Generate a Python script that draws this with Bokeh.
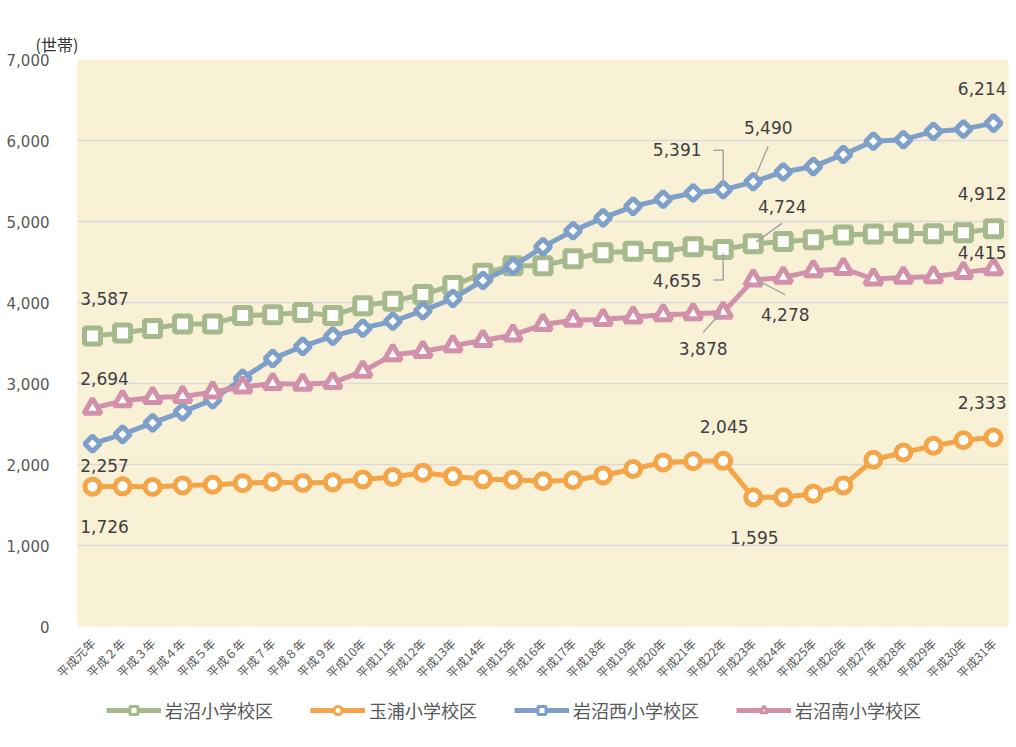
import math
from bokeh.plotting import figure
from bokeh.layouts import column
from bokeh.models import (ColumnDataSource, FactorRange, Range1d, NumeralTickFormatter,
                          SingleIntervalTicker, Legend, LegendItem, LabelSet)
from bokeh.core.properties import value
from bokeh.embed import file_html
from bokeh.resources import INLINE

# ---------------- data ----------------
years = ["平成元年", "平成２年", "平成３年", "平成４年", "平成５年", "平成６年", "平成７年",
         "平成８年", "平成９年", "平成10年", "平成11年", "平成12年", "平成13年", "平成14年",
         "平成15年", "平成16年", "平成17年", "平成18年", "平成19年", "平成20年", "平成21年",
         "平成22年", "平成23年", "平成24年", "平成25年", "平成26年", "平成27年", "平成28年",
         "平成29年", "平成30年", "平成31年"]

iwanuma = [3587, 3622, 3680, 3736, 3736, 3838, 3850, 3878, 3838, 3960, 4015, 4100, 4210,
           4360, 4455, 4455, 4540, 4615, 4632, 4628, 4688, 4655, 4724, 4754, 4775, 4832,
           4845, 4854, 4848, 4860, 4912]
tamaura = [1726, 1730, 1722, 1742, 1750, 1770, 1784, 1772, 1780, 1815, 1845, 1898, 1854,
           1817, 1812, 1793, 1805, 1865, 1945, 2026, 2040, 2045, 1595, 1595, 1640, 1742,
           2058, 2148, 2230, 2300, 2333]
nishi = [2257, 2372, 2514, 2650, 2800, 3063, 3308, 3458, 3585, 3683, 3768, 3898, 4049,
         4272, 4447, 4687, 4885, 5045, 5187, 5275, 5352, 5391, 5490, 5612, 5678, 5828,
         5990, 6010, 6112, 6140, 6214]
minami = [2694, 2785, 2826, 2838, 2895, 2956, 3000, 2990, 3010, 3150, 3355, 3395, 3465,
          3530, 3598, 3728, 3780, 3790, 3820, 3848, 3860, 3878, 4278, 4310, 4390, 4418,
          4290, 4310, 4318, 4370, 4415]

series_names = ["岩沼小学校区", "玉浦小学校区", "岩沼西小学校区", "岩沼南小学校区"]
series_values = [iwanuma, tamaura, nishi, minami]
y_ticks_max = 7000
y_tick_step = 1000
unit_label = "(世帯)"

# ---------------- styles ----------------
colors = ["#A6B98C", "#F4A548", "#7EA0C8", "#D291AA"]
markers = ["square", "circle", "square", "triangle"]
marker_sizes = [16, 15, 11, 17]
marker_angles = [0, 0, math.pi / 4, 0]
LINE_W = 5
BG = "#F9F1D6"
TXT = "#404040"
AX = "#595959"

W, H = 1014, 690
BL, BR, BT, BB = 77, 6, 59, 57
FW, FH = W - BL - BR, H - BT - BB
ppx = FW / len(years)
ppy = FH / y_ticks_max
LEG_H = 55


def cat_x(i):
    # synthetic coordinate of the centre of category i on the FactorRange
    return i + 0.5


p = figure(width=W, height=H, x_range=FactorRange(*years, range_padding=0),
           y_range=Range1d(0, y_ticks_max), output_backend="svg", toolbar_location=None,
           min_border_left=BL, min_border_right=BR, min_border_top=BT, min_border_bottom=BB)
p.background_fill_color = BG
p.border_fill_color = "white"
p.outline_line_color = None

p.title.text = unit_label
p.title.align = "left"
p.title.offset = -42
p.title.standoff = 8
p.title.text_font = "Noto Sans CJK JP"
p.title.text_font_size = "16px"
p.title.text_font_style = "normal"
p.title.text_color = "#333333"

p.xgrid.grid_line_color = None
p.ygrid.grid_line_color = "#DADADA"
p.ygrid.grid_line_width = 1.5

p.yaxis.ticker = SingleIntervalTicker(interval=y_tick_step)
p.yaxis.formatter = NumeralTickFormatter(format="0,0")
p.yaxis.axis_line_color = None
p.yaxis.major_tick_line_color = None
p.yaxis.minor_tick_line_color = None
p.yaxis.major_label_standoff = 22
p.yaxis.major_label_text_font = "DejaVu Sans"
p.yaxis.major_label_text_font_size = "15px"
p.yaxis.major_label_text_color = AX

p.xaxis.axis_line_color = None
p.xaxis.major_tick_line_color = None
p.xaxis.minor_tick_line_color = None
p.xaxis.major_label_orientation = math.pi / 4
p.xaxis.major_label_standoff = 8
p.xaxis.major_label_text_font = "Noto Sans CJK JP"
p.xaxis.major_label_text_font_size = "12px"
p.xaxis.major_label_text_color = AX

# legend strip (separate figure so the legend is not clipped by the plot frame)
lg = figure(width=W, height=LEG_H, x_range=Range1d(0, 1), y_range=Range1d(0, 1),
            output_backend="svg", toolbar_location=None, x_axis_type=None,
            y_axis_type=None, min_border=0)
lg.grid.visible = False
lg.outline_line_color = None
lg.background_fill_color = "white"
lg.border_fill_color = "white"

items = []
for name, vals, col, mk, ms, ang in zip(series_names, series_values, colors, markers,
                                         marker_sizes, marker_angles):
    src = ColumnDataSource(dict(x=years, y=vals))
    p.line("x", "y", source=src, line_color=col, line_width=LINE_W)
    p.scatter("x", "y", source=src, marker=mk, size=ms, angle=ang,
              fill_color="white", line_color=col, line_width=LINE_W)
    # legend-only renderers: one point outside the visible range of the strip
    hidden = ColumnDataSource(dict(x=[-10, -9], y=[-10, -10]))
    l2 = lg.line("x", "y", source=hidden, line_color=col, line_width=LINE_W)
    s2 = lg.scatter("x", "y", source=hidden, marker=mk, size=ms, angle=ang,
                    fill_color="white", line_color=col, line_width=3)
    items.append(LegendItem(label=name, renderers=[l2, s2]))

# leader lines (pixel offsets from the point)
leaders = [
    (2, 21, [(-10, 40), (0, 40), (0, 5)]),
    (2, 22, [(15, 36), (2, 5)]),
    (0, 21, [(-10, -31), (0, -31), (0, -4)]),
    (0, 22, [(29, 21), (3, 2)]),
    (3, 21, [(-20, -20), (-2, 0)]),
    (3, 22, [(32, -15), (4, 0)]),
]
xs, ys = [], []
for si, idx, path in leaders:
    v = series_values[si][idx]
    xs.append([cat_x(idx) + dx / ppx for dx, dy in path])
    ys.append([v + dy / ppy for dx, dy in path])
p.multi_line(xs, ys, line_color="#A6A6A6", line_width=1.5)

# data labels: (series, index, dx px, dy px up, align)
label_specs = [
    (0, 0, 12, 37, "center"), (3, 0, 12, 30, "center"), (2, 0, 12, -22, "center"),
    (1, 0, 12, -40, "center"),
    (2, 21, -46, 40, "center"), (2, 22, 15, 54, "center"),
    (0, 21, -46, -31, "center"), (0, 22, 29, 37, "center"),
    (3, 21, -20, -36, "center"), (3, 22, 32, -35, "center"),
    (1, 21, 1, 34, "center"), (1, 22, 1, -40, "center"),
    (2, 30, 13, 35, "right"), (0, 30, 13, 35, "right"),
    (3, 30, 13, 16, "right"), (1, 30, 13, 35, "right"),
]
for align in ("center", "right"):
    sel = [s for s in label_specs if s[4] == align]
    lsrc = ColumnDataSource(dict(
        x=[cat_x(i) for _, i, _, _, _ in sel],
        y=[series_values[si][i] for si, i, _, _, _ in sel],
        text=[f"{series_values[si][i]:,}" for si, i, _, _, _ in sel],
        dx=[dx for _, _, dx, _, _ in sel],
        dy=[dy for _, _, _, dy, _ in sel]))
    p.add_layout(LabelSet(x="x", y="y", text="text", x_offset="dx", y_offset="dy",
                          source=lsrc, text_align=align, text_baseline="middle",
                          text_font=value("DejaVu Sans"), text_font_size="17px",
                          text_color=TXT))

legend = Legend(items=items, orientation="horizontal", location=(29, 22),
                glyph_width=55, glyph_height=20, label_standoff=4, spacing=37,
                padding=0, margin=0, border_line_color=None, background_fill_alpha=0,
                label_text_font="Noto Sans CJK JP", label_text_font_size="18px",
                label_text_color=AX)
lg.add_layout(legend)

open("out.html", "w").write(file_html(column(p, lg), INLINE))
